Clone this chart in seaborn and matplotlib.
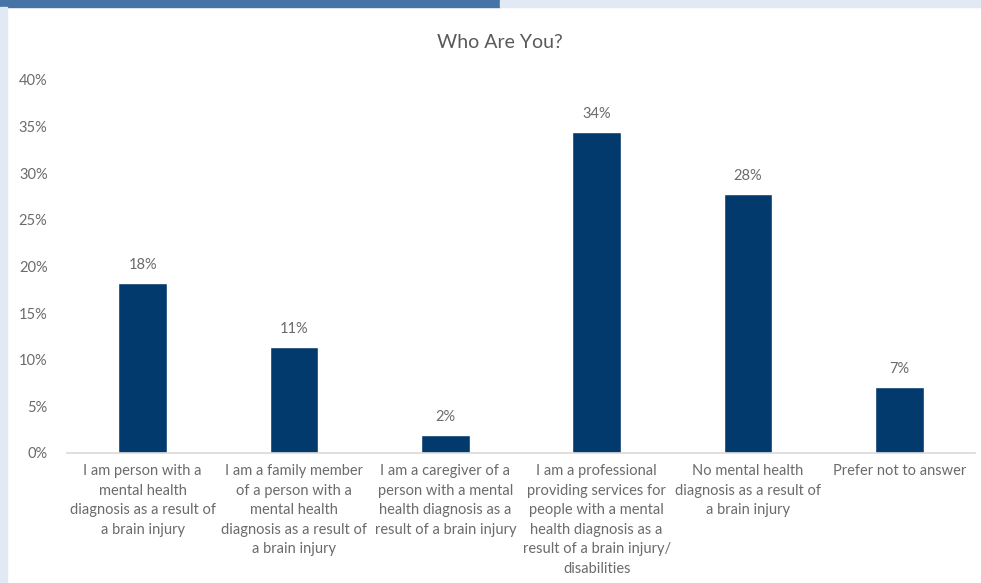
import matplotlib
matplotlib.use("Agg")
import matplotlib.pyplot as plt
import seaborn as sns
import pandas as pd
from matplotlib.patches import Rectangle

categories = [
    "I am person with a\nmental health\ndiagnosis as a result of\na brain injury",
    "I am a family member\nof a person with a\nmental health\ndiagnosis as a result of\na brain injury",
    "I am a caregiver of a\nperson with a mental\nhealth diagnosis as a\nresult of a brain injury",
    "I am a professional\nproviding services for\npeople with a mental\nhealth diagnosis as a\nresult of a brain injury/\ndisabilities",
    "No mental health\ndiagnosis as a result of\na brain injury",
    "Prefer not to answer",
]
values = [0.182, 0.114, 0.019, 0.344, 0.278, 0.071]
yticks = [0, 0.05, 0.10, 0.15, 0.20, 0.25, 0.30, 0.35, 0.40]
ytick_labels = ["0%", "5%", "10%", "15%", "20%", "25%", "30%", "35%", "40%"]

sns.set_theme(style="white")
plt.rcParams["font.family"] = ["Lato", "DejaVu Sans"]

W, H = 981, 583
fig = plt.figure(figsize=(W / 100, H / 100), dpi=100)

# decorative strips
fig.patches.append(Rectangle((0, 1 - 7 / H), 500 / W, 7 / H, transform=fig.transFigure,
                             color="#4674a6", zorder=0))
fig.patches.append(Rectangle((500 / W, 1 - 7 / H), 1 - 500 / W, 7 / H, transform=fig.transFigure,
                             color="#e1e9f4", zorder=0))
fig.patches.append(Rectangle((0, 0), 7 / W, 1 - 7 / H, transform=fig.transFigure,
                             color="#e1e9f4", zorder=0))

ax = fig.add_axes([67 / W, 1 - 453 / H, 908 / W, (453 - 80) / H])
df = pd.DataFrame({"cat": categories, "val": values})
sns.barplot(data=df, x="cat", y="val", color="#033a6d", width=0.32, ax=ax, saturation=1)

ax.set_ylim(0, 0.40)
ax.set_yticks(yticks)
ax.set_yticklabels(ytick_labels)
ax.set_xlabel("")
ax.set_ylabel("")
txtc = "#6b6b6b"
ax.tick_params(axis="y", length=0, pad=14, labelsize=10.5, labelcolor=txtc)
ax.tick_params(axis="x", length=0, pad=8, labelsize=10.5, labelcolor=txtc)
for lab in ax.get_xticklabels():
    lab.set_linespacing(1.5)
for s in ["top", "right", "left"]:
    ax.spines[s].set_visible(False)
ax.spines["bottom"].set_color("#d9d9d9")
ax.spines["bottom"].set_linewidth(1.2)
ax.set_facecolor("none")

for i, v in enumerate(values):
    ax.annotate(f"{v*100:.0f}%", (i, v), xytext=(0, 8), textcoords="offset points",
                ha="center", va="bottom", fontsize=10.5, color=txtc)

fig.text(500 / W, 1 - 42 / H, "Who Are You?", ha="center", va="center", fontsize=14, color="#595959")

fig.savefig("out.png", dpi=100, facecolor="white")
